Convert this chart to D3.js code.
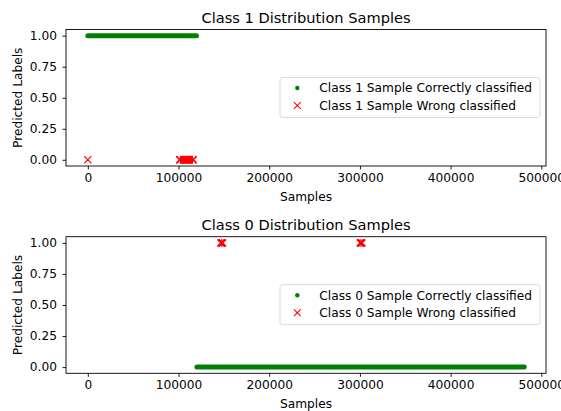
<!DOCTYPE html>
<html>
<head>
<meta charset="utf-8">
<script src="https://cdn.jsdelivr.net/npm/d3@7"></script>
<style>
  html, body { margin: 0; padding: 0; background: #fff; }
  svg { display: block; font-family: "DejaVu Sans", sans-serif; }
</style>
</head>
<body>
<svg id="chart" width="561" height="411"></svg>
<script>
// Sample index ranges; each run is a contiguous block of samples [first, last].
const class1CorrectRuns = [[0, 119800]];
const class1WrongRuns = [[0, 0], [101500, 116000]];
const class0CorrectRuns = [[120300, 481100]];
const class0WrongRuns = [[147000, 148300], [300600, 301900]];

// Predicted label of each group
const class1CorrectLabel = 1, class1WrongLabel = 0;
const class0CorrectLabel = 0, class0WrongLabel = 1;

const xTicks = [0, 100000, 200000, 300000, 400000, 500000];
const yTicks = [0.00, 0.25, 0.50, 0.75, 1.00];
const xDomain = [-24055, 505155];
const yDomain = [-0.05, 1.05];

const panels = [
  {
    title: "Class 1 Distribution Samples",
    top: 29.5, bottom: 166,
    correct: class1CorrectRuns, correctY: class1CorrectLabel,
    wrong: class1WrongRuns, wrongY: class1WrongLabel,
    legend: ["Class 1 Sample Correctly classified", "Class 1 Sample Wrong classified"],
    legendTop: 77.5
  },
  {
    title: "Class 0 Distribution Samples",
    top: 236.7, bottom: 373.3,
    correct: class0CorrectRuns, correctY: class0CorrectLabel,
    wrong: class0WrongRuns, wrongY: class0WrongLabel,
    legend: ["Class 0 Sample Correctly classified", "Class 0 Sample Wrong classified"],
    legendTop: 284.7
  }
];

const svg = d3.select("#chart");
const left = 66, right = 546;
const green = "#008000", red = "#ff0000";
const fs = 12.2;
const crossHalf = 3.6;

svg.append("rect").attr("width", 561).attr("height", 411).attr("fill", "#fff");

function crossPath(cx, cy, h) {
  return `M${cx - h},${cy - h}L${cx + h},${cy + h}M${cx - h},${cy + h}L${cx + h},${cy - h}`;
}

panels.forEach(p => {
  const x = d3.scaleLinear().domain(xDomain).range([left, right]);
  const y = d3.scaleLinear().domain(yDomain).range([p.bottom, p.top]);
  const g = svg.append("g");

  // correct samples: dense runs of dots drawn as round-capped strokes
  g.selectAll("line.correct").data(p.correct).join("line")
    .attr("class", "correct")
    .attr("x1", d => x(d[0])).attr("x2", d => x(d[1]))
    .attr("y1", y(p.correctY)).attr("y2", y(p.correctY))
    .attr("stroke", green).attr("stroke-width", 5).attr("stroke-linecap", "round");

  // wrong samples: crosses at run ends, filled band where they overlap
  const wg = g.append("g");
  p.wrong.forEach(d => {
    const x0 = x(d[0]), x1 = x(d[1]), cy = y(p.wrongY);
    if (x1 - x0 > 0.5) {
      wg.append("rect").attr("x", x0).attr("y", cy - crossHalf - 0.4)
        .attr("width", x1 - x0).attr("height", 2 * crossHalf + 0.8).attr("fill", red);
    }
    wg.append("path").attr("d", crossPath(x0, cy, crossHalf) + crossPath(x1, cy, crossHalf))
      .attr("stroke", red).attr("stroke-width", x1 - x0 > 0.5 ? 1.8 : 1.2).attr("fill", "none");
  });

  // axes
  const xAxis = d3.axisBottom(x).tickValues(xTicks).tickFormat(d3.format("d"))
    .tickSize(3.5).tickPadding(3.5).tickSizeOuter(0);
  const gx = g.append("g").attr("transform", `translate(0,${p.bottom})`).call(xAxis);
  const yAxis = d3.axisLeft(y).tickValues(yTicks).tickFormat(d3.format(".2f"))
    .tickSize(3.5).tickPadding(5.5).tickSizeOuter(0);
  const gy = g.append("g").attr("transform", `translate(${left},0)`).call(yAxis);
  [gx, gy].forEach(a => {
    a.select(".domain").remove();
    a.selectAll("text").attr("font-size", fs).attr("font-family", "DejaVu Sans").attr("fill", "#000");
    a.selectAll("line").attr("stroke", "#000").attr("stroke-width", 0.9);
  });

  // frame
  g.append("rect").attr("x", left).attr("y", p.top)
    .attr("width", right - left).attr("height", p.bottom - p.top)
    .attr("fill", "none").attr("stroke", "#000").attr("stroke-width", 0.9);

  // title and axis labels
  g.append("text").attr("x", (left + right) / 2).attr("y", p.top - 7)
    .attr("text-anchor", "middle").attr("font-size", 14.6).attr("fill", "#000").text(p.title);
  g.append("text").attr("x", (left + right) / 2).attr("y", p.bottom + 35)
    .attr("text-anchor", "middle").attr("font-size", fs).attr("fill", "#000").text("Samples");
  g.append("text")
    .attr("transform", `translate(${21.5},${(p.top + p.bottom) / 2}) rotate(-90)`)
    .attr("text-anchor", "middle").attr("font-size", fs).attr("fill", "#000").text("Predicted Labels");

  // legend
  const lg = g.append("g").attr("transform", `translate(280,${p.legendTop})`);
  lg.append("rect").attr("x", 0).attr("y", 0).attr("width", 260).attr("height", 40)
    .attr("rx", 2.5).attr("fill", "#fff").attr("fill-opacity", 0.8)
    .attr("stroke", "#d6d6d6").attr("stroke-width", 0.9);
  const rows = [10.5, 28];
  lg.append("circle").attr("cx", 17.3).attr("cy", rows[0]).attr("r", 2.2).attr("fill", green);
  lg.append("path").attr("d", crossPath(17.3, rows[1], 3.4))
    .attr("stroke", red).attr("stroke-width", 1.1).attr("fill", "none");
  p.legend.forEach((t, i) => {
    lg.append("text").attr("x", 39.3).attr("y", rows[i]).attr("dy", "0.36em")
      .attr("font-size", fs).attr("fill", "#000").text(t);
  });
});
</script>
</body>
</html>
